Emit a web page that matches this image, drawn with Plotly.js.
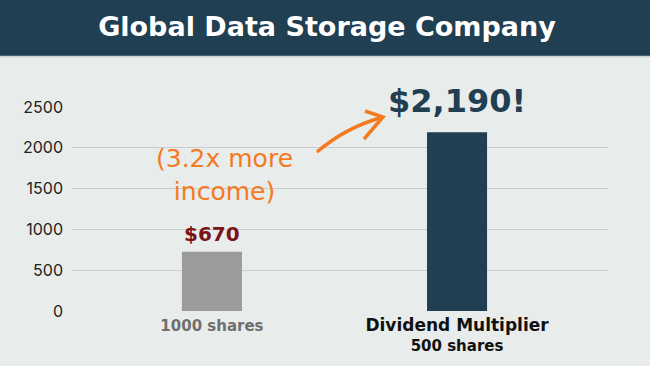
<!DOCTYPE html>
<html>
<head>
<meta charset="utf-8">
<script src="https://cdn.plot.ly/plotly-3.0.1.min.js"></script>
<style>html,body{margin:0;padding:0;background:#e8eceb;}#chart{width:650px;height:366px;}</style>
</head>
<body>
<div id="chart"></div>
<script>
// ---- data ----
const categories = ["1000 shares", "Dividend Multiplier"];
const values = [725, 2190];
const valueLabels = ["$670", "$2,190!"];
const tickLabels = [
  "<span style='color:#6f6f6f'>1000 shares</span>",
  "<span style='font-size:17px'>Dividend Multiplier</span><br>500 shares"
];
const yTicks = [0, 500, 1000, 1500, 2000, 2500];
const noteText = "(3.2x more<br>income)";
const chartTitle = "Global Data Storage Company";

// ---- layout helpers (pixel -> paper) ----
const W = 650, H = 366, L = 72, R = 42, T = 107, B = 55;
const pw = W - L - R, ph = H - T - B;
const px = x => (x - L) / pw;
const py = y => (H - B - y) / ph;

const trace = {
  type: "bar",
  x: [0, 1],
  y: values,
  width: 0.245,
  marker: {color: ["#9b9b9b", "#213f52"]},
  hoverinfo: "none"
};

const layout = {
  width: W, height: H,
  margin: {l: L, r: R, t: T, b: B},
  paper_bgcolor: "#e8eceb",
  plot_bgcolor: "#e8eceb",
  showlegend: false,
  title: {
    text: chartTitle,
    font: {family: "DejaVu Sans", size: 27, color: "#ffffff", weight: "bold"},
    x: 327 / W, xanchor: "center", xref: "container",
    y: 1 - 27 / H, yref: "container", yanchor: "middle"
  },
  xaxis: {
    range: [-0.571, 1.616],
    tickvals: [0, 1],
    ticktext: tickLabels,
    showgrid: false, zeroline: false, showline: false,
    ticks: "", ticklen: 0, ticklabelstandoff: 4,
    tickfont: {family: "DejaVu Sans", size: 15, color: "#111111", weight: "bold"},
    fixedrange: true
  },
  yaxis: {
    range: [0, 2500],
    tickvals: yTicks,
    showgrid: true, gridcolor: "#c9cdcd", gridwidth: 1,
    zeroline: false, showline: false,
    ticks: "", ticklabelstandoff: 8,
    tickfont: {family: "Inter", size: 16, color: "#222222"},
    fixedrange: true
  },
  shapes: [
    {type: "rect", xref: "paper", yref: "paper", x0: px(0), x1: px(W), y0: py(56), y1: py(0),
     fillcolor: "#213f52", line: {width: 0}, layer: "below"},
    {type: "line", xref: "paper", yref: "paper", x0: px(0), x1: px(W), y0: py(56.5), y1: py(56.5),
     line: {color: "#c7d4d8", width: 1.5}},
    {type: "path", xref: "paper", yref: "paper",
     path: `M ${px(317)},${py(152)} Q ${px(345)},${py(128)} ${px(380)},${py(118)}`,
     line: {color: "#f57a1f", width: 3.5}},
    {type: "path", xref: "paper", yref: "paper",
     path: `M ${px(365)},${py(111)} L ${px(383)},${py(117)} L ${px(364)},${py(139)}`,
     line: {color: "#f57a1f", width: 3.5}}
  ],
  annotations: [
    {x: 0, y: values[0], xref: "x", yref: "y", text: valueLabels[0], showarrow: false,
     yanchor: "bottom", yshift: 4,
     font: {family: "DejaVu Sans", size: 20, color: "#7a1416", weight: "bold"}},
    {x: 1, y: values[1], xref: "x", yref: "y", text: valueLabels[1], showarrow: false,
     yanchor: "bottom", yshift: 10,
     font: {family: "DejaVu Sans", size: 32, color: "#213f52", weight: "bold"}},
    {x: px(224), y: py(175), xref: "paper", yref: "paper", text: noteText, showarrow: false,
     xanchor: "center", yanchor: "middle", align: "center",
     font: {family: "DejaVu Sans", size: 25, color: "#f57a1f"}}
  ]
};

Plotly.newPlot("chart", [trace], layout, {displayModeBar: false, staticPlot: true});
</script>
</body>
</html>
